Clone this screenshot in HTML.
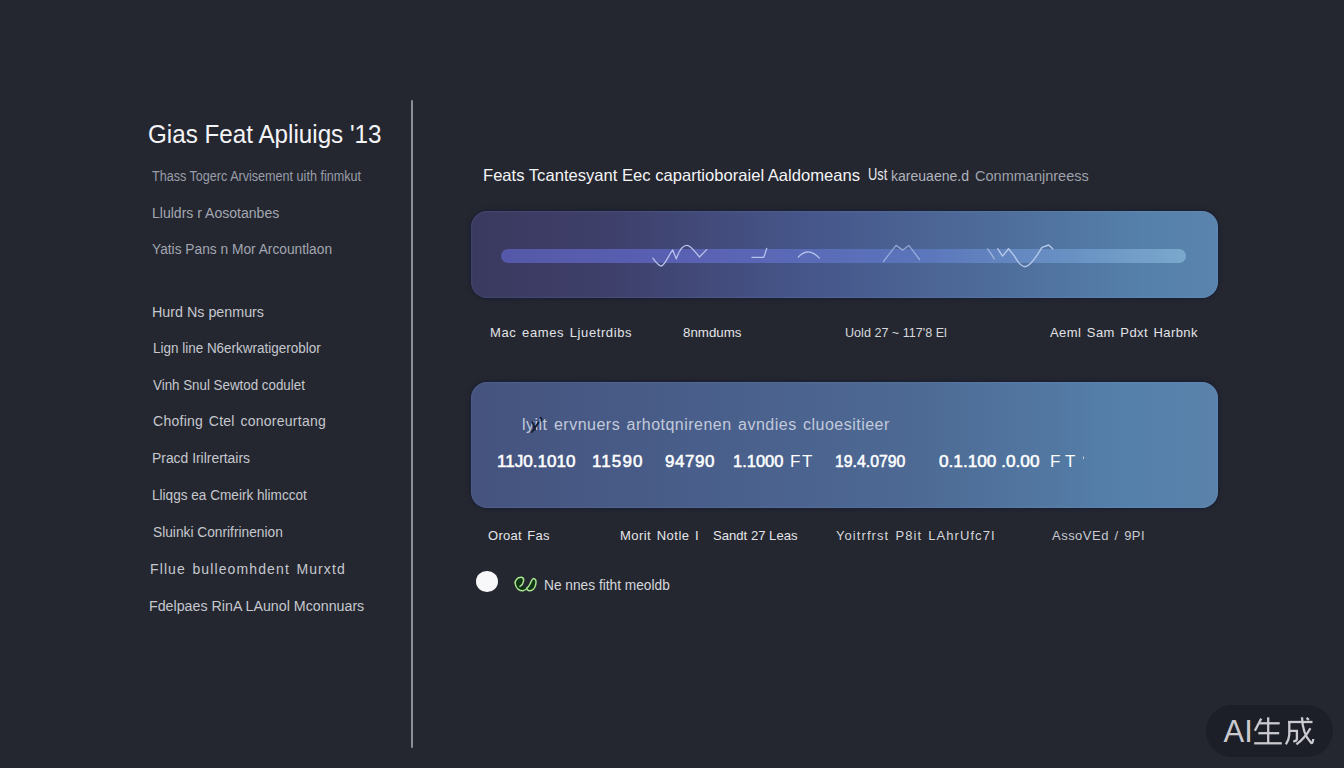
<!DOCTYPE html>
<html><head><meta charset="utf-8">
<style>
html,body{margin:0;padding:0;}
body{width:1344px;height:768px;overflow:hidden;background:#242730;position:relative;font-family:"Liberation Sans",sans-serif;}
.t{position:absolute;white-space:nowrap;line-height:1;transform-origin:0 0;}
.vline{position:absolute;left:411px;top:100px;width:2px;height:648px;background:#8a8e99;border-radius:1px;}
.card1{position:absolute;left:471px;top:211px;width:747px;height:87px;border-radius:16px;
 background:linear-gradient(90deg,#3a395f 0%,#3e3f6a 18%,#46568a 45%,#4e6c9a 70%,#5580aa 90%,#5a84ad 100%);
 box-shadow:0 0 0 1.5px rgba(28,33,55,0.75),0 0 4px 1px rgba(25,28,40,0.5),inset 0 0 2px 0.5px rgba(200,210,235,0.12);}
.bar1{position:absolute;left:501px;top:249px;width:685px;height:14px;border-radius:7px;
 background:linear-gradient(90deg,#5558a8 0%,#5a62b4 30%,#5a74ba 60%,#6a94c4 85%,#7aa8cc 100%);}
.card2{position:absolute;left:471px;top:382px;width:747px;height:126px;border-radius:16px;
 background:linear-gradient(90deg,#45537e 0%,#495e8a 30%,#4d6a94 60%,#5580aa 88%,#5a82ab 100%);
 box-shadow:0 0 0 1.5px rgba(28,33,55,0.75),0 0 4px 1px rgba(25,28,40,0.5),inset 0 0 2px 0.5px rgba(200,210,235,0.12);}
.ov{position:absolute;left:0;top:0;}
.dot{position:absolute;left:476px;top:570.5px;width:22px;height:21.5px;border-radius:50%;background:#f8f8fa;}
.badge{position:absolute;left:1206px;top:705px;width:127px;height:52px;border-radius:26px;background:#1d1f28;}
</style></head><body>
<div class="vline"></div>
<div class="card1"></div>
<div class="bar1"></div>
<div class="card2"></div>
<svg class="ov" width="1344" height="768" viewBox="0 0 1344 768">
<g fill="none" stroke="#b8c3ec" stroke-width="1.3" stroke-linecap="round" stroke-linejoin="round">
<path d="M652.8 258.2 C656 262 659 266.3 661.4 266 C664.5 265.5 668.5 255.5 672.7 249.9 L676.3 258.8 C679 251 682 245.3 687 245.4 C691 245.5 695 252 699.5 257 L706.7 249.6"/>
<path d="M752 257.4 L763.8 257.4 L766.8 248.4"/>
<path d="M798.3 257.1 Q808 246 819.4 258.1"/>
</g>
<g fill="none" stroke="#a8bde6" stroke-width="1.3" stroke-linecap="round" stroke-linejoin="round" opacity="0.75">
<path d="M883.4 261.5 L896.1 245.4 L902.8 250.1 L908.8 245.4 L919.6 259.5"/>
</g>
<g fill="none" stroke="#b4c8ea" stroke-width="1.4" stroke-linecap="round" stroke-linejoin="round">
<path d="M987.7 248.8 L994.4 258.8" opacity="0.7"/>
<path d="M997.8 248.8 L1002.5 256.1 L1008.5 248.8 L1014.5 256.1 Q1020 266.5 1025.2 266.8 Q1031 266 1042 247.4 L1048.7 245 L1052.7 248.8"/>
</g>
</svg>
<div class="dot"></div>
<svg class="ov" width="1344" height="768" viewBox="0 0 1344 768">
<g fill="#0f3514" stroke="#a8e48e" stroke-width="1.5" stroke-linecap="round">
<path d="M520 586.4 C524 584 525 578 521.5 577.3 C517 577 514.5 581 515.3 584 C516 589 520 591 523 590.8 C526 590 528.5 587 530 584 C531.5 581 532 578.4 533.5 578.4 C536 578.5 536.5 582 535.7 584.5 C535 588 532.5 590.8 529.9 590.8 C527.5 590.8 526.5 589 527 587.5"/>
</g>
</svg>
<div class="badge"></div>
<svg class="ov" width="1344" height="768" viewBox="0 0 1344 768" style="z-index:2">
<g fill="none" stroke="#161c32" stroke-width="1.9" stroke-linecap="round">
<path d="M532.5 422 L535 429.5 M538.5 422.5 L532 432 M540.5 417.8 Q542.2 418.6 541.4 420.8"/>
</g>
<path d="M1083.5 456.5 L1083.5 459" stroke="#dde3ee" stroke-width="1" opacity="0.8"/>
</svg>
<div id="title" class="t" style="left:148.03px;top:121.84px;font-size:25px;color:#f4f4f6;font-weight:400;letter-spacing:0.000px;word-spacing:0.000px;transform:scaleX(0.9689)">Gias Feat Apliuigs '13</div>
<div id="m1" class="t" style="left:152.00px;top:169.15px;font-size:14px;color:#9a9da8;font-weight:400;letter-spacing:0.000px;word-spacing:0.000px;transform:scaleX(0.8992)">Thass Togerc Arvisement uith finmkut</div>
<div id="m2" class="t" style="left:152.00px;top:206.15px;font-size:14px;color:#a3a6b0;font-weight:400;letter-spacing:0.000px;word-spacing:0.000px;transform:scaleX(1.0029)">Lluldrs r Aosotanbes</div>
<div id="m3" class="t" style="left:152.00px;top:242.15px;font-size:14px;color:#a3a6b0;font-weight:400;letter-spacing:0.000px;word-spacing:0.000px;transform:scaleX(0.9816)">Yatis Pans n Mor Arcountlaon</div>
<div id="m4" class="t" style="left:151.98px;top:305.15px;font-size:14px;color:#c6c8ce;font-weight:400;letter-spacing:0.000px;word-spacing:0.000px;transform:scaleX(1.0211)">Hurd Ns penmurs</div>
<div id="m5" class="t" style="left:153.04px;top:341.15px;font-size:14px;color:#c6c8ce;font-weight:400;letter-spacing:0.000px;word-spacing:0.000px;transform:scaleX(0.9617)">Lign line N6erkwratigeroblor</div>
<div id="m6" class="t" style="left:153.00px;top:378.15px;font-size:14px;color:#c6c8ce;font-weight:400;letter-spacing:0.000px;word-spacing:0.000px;transform:scaleX(0.9535)">Vinh Snul Sewtod codulet</div>
<div id="m7" class="t" style="left:153.00px;top:414.15px;font-size:14px;color:#c6c8ce;font-weight:400;letter-spacing:0.265px;word-spacing:1.500px;transform:scaleX(1.0000)">Chofing Ctel conoreurtang</div>
<div id="m8" class="t" style="left:152.01px;top:451.15px;font-size:14px;color:#c6c8ce;font-weight:400;letter-spacing:0.000px;word-spacing:0.000px;transform:scaleX(0.9919)">Pracd Irilrertairs</div>
<div id="m9" class="t" style="left:152.03px;top:488.15px;font-size:14px;color:#c6c8ce;font-weight:400;letter-spacing:0.000px;word-spacing:0.000px;transform:scaleX(0.9710)">Lliqgs ea Cmeirk hlimccot</div>
<div id="m10" class="t" style="left:153.00px;top:525.15px;font-size:14px;color:#c6c8ce;font-weight:400;letter-spacing:0.000px;word-spacing:0.000px;transform:scaleX(0.9810)">Sluinki Conrifrinenion</div>
<div id="m11" class="t" style="left:150.00px;top:562.15px;font-size:14px;color:#c6c8ce;font-weight:400;letter-spacing:1.117px;word-spacing:1.500px;transform:scaleX(1.0000)">Fllue bulleomhdent Murxtd</div>
<div id="m12" class="t" style="left:148.98px;top:599.15px;font-size:14px;color:#c6c8ce;font-weight:400;letter-spacing:0.000px;word-spacing:0.000px;transform:scaleX(1.0168)">Fdelpaes RinA LAunol Mconnuars</div>
<div id="h1" class="t" style="left:482.99px;top:167.03px;font-size:16.5px;color:#f4f4f6;font-weight:400;letter-spacing:0.000px;word-spacing:0.000px;transform:scaleX(1.0059)">Feats Tcantesyant Eec capartioboraiel Aaldomeans</div>
<div id="h1b" class="t" style="left:867.69px;top:167.46px;font-size:16px;color:#e6e7eb;font-weight:400;letter-spacing:0.000px;word-spacing:0.000px;transform:scaleX(0.8066)">Ust</div>
<div id="h2" class="t" style="left:891.00px;top:168.73px;font-size:14.5px;color:#b0b3bd;font-weight:400;letter-spacing:0.000px;word-spacing:0.000px;transform:scaleX(0.9683)">kareuaene.d</div>
<div id="h3" class="t" style="left:974.50px;top:168.73px;font-size:14.5px;color:#9ea1ab;font-weight:400;letter-spacing:0.000px;word-spacing:0.000px;transform:scaleX(1.0011)">Conmmanjnreess</div>
<div id="l1" class="t" style="left:490.00px;top:326.00px;font-size:13px;color:#e2e3e7;font-weight:400;letter-spacing:0.596px;word-spacing:1.500px;transform:scaleX(1.0000)">Mac eames Ljuetrdibs</div>
<div id="l2" class="t" style="left:683.00px;top:326.00px;font-size:13px;color:#e2e3e7;font-weight:400;letter-spacing:0.000px;word-spacing:0.000px;transform:scaleX(1.0247)">8nmdums</div>
<div id="l3" class="t" style="left:845.03px;top:326.00px;font-size:13px;color:#d6d8dc;font-weight:400;letter-spacing:0.000px;word-spacing:0.000px;transform:scaleX(0.9680)">Uold 27 ~ 117'8 El</div>
<div id="l4" class="t" style="left:1050.00px;top:326.00px;font-size:13px;color:#e2e3e7;font-weight:400;letter-spacing:0.416px;word-spacing:1.500px;transform:scaleX(1.0000)">Aeml Sam Pdxt Harbnk</div>
<div id="c2t" class="t" style="left:522.00px;top:417.46px;font-size:16px;color:#c2cadb;font-weight:400;letter-spacing:0.487px;word-spacing:1.500px;transform:scaleX(1.0000)">lyilt ervnuers arhotqnirenen avndies cluoesitieer</div>
<div id="n1" class="t" style="left:497.00px;top:452.61px;font-size:17px;color:#ffffff;font-weight:400;letter-spacing:0.000px;word-spacing:0.000px;transform:scaleX(1.0041);-webkit-text-stroke:0.55px #ffffff">11J0.1010</div>
<div id="n2" class="t" style="left:592.00px;top:452.61px;font-size:17px;color:#ffffff;font-weight:400;letter-spacing:1.111px;word-spacing:0.000px;transform:scaleX(1.0000);-webkit-text-stroke:0.55px #ffffff">11590</div>
<div id="n3" class="t" style="left:665.00px;top:452.61px;font-size:17px;color:#ffffff;font-weight:400;letter-spacing:0.545px;word-spacing:0.000px;transform:scaleX(1.0000);-webkit-text-stroke:0.55px #ffffff">94790</div>
<div id="n4" class="t" style="left:733.03px;top:452.61px;font-size:17px;color:#ffffff;font-weight:400;letter-spacing:0.000px;word-spacing:0.000px;transform:scaleX(0.9695);-webkit-text-stroke:0.55px #ffffff">1.1000</div>
<div id="n4b" class="t" style="left:790.00px;top:452.61px;font-size:17px;color:#ffffff;font-weight:400;letter-spacing:1.616px;word-spacing:0.000px;transform:scaleX(1.0000)">FT</div>
<div id="n5" class="t" style="left:835.07px;top:452.61px;font-size:17px;color:#ffffff;font-weight:400;letter-spacing:0.000px;word-spacing:0.000px;transform:scaleX(0.9302);-webkit-text-stroke:0.55px #ffffff">19.4.0790</div>
<div id="n6" class="t" style="left:939.00px;top:452.61px;font-size:17px;color:#ffffff;font-weight:400;letter-spacing:0.000px;word-spacing:0.000px;transform:scaleX(1.0122);-webkit-text-stroke:0.55px #ffffff">0.1.100 .0.00</div>
<div id="n7" class="t" style="left:1050.00px;top:452.61px;font-size:17px;color:#ffffff;font-weight:400;letter-spacing:4.616px;word-spacing:0.000px;transform:scaleX(1.0000)">FT</div>
<div id="b1" class="t" style="left:488.00px;top:529.00px;font-size:13px;color:#e4e5e8;font-weight:400;letter-spacing:0.276px;word-spacing:1.500px;transform:scaleX(1.0000)">Oroat Fas</div>
<div id="b2" class="t" style="left:620.00px;top:529.00px;font-size:13px;color:#e4e5e8;font-weight:400;letter-spacing:0.462px;word-spacing:1.500px;transform:scaleX(1.0000)">Morit Notle I</div>
<div id="b3" class="t" style="left:713.00px;top:529.00px;font-size:13px;color:#e4e5e8;font-weight:400;letter-spacing:0.000px;word-spacing:0.000px;transform:scaleX(1.0078)">Sandt 27 Leas</div>
<div id="b4" class="t" style="left:836.00px;top:529.00px;font-size:13px;color:#d4d6da;font-weight:400;letter-spacing:1.069px;word-spacing:1.500px;transform:scaleX(1.0000)">Yoitrfrst P8it LAhrUfc7I</div>
<div id="b5" class="t" style="left:1052.00px;top:529.00px;font-size:13px;color:#c8cad0;font-weight:400;letter-spacing:0.483px;word-spacing:1.500px;transform:scaleX(1.0000)">AssoVEd / 9PI</div>
<div id="ft" class="t" style="left:544.02px;top:578.15px;font-size:14px;color:#d6d8dc;font-weight:400;letter-spacing:0.000px;word-spacing:0.000px;transform:scaleX(0.9795)">Ne nnes fitht meoldb</div>
<div class="t" id="ai" style="left:1223.5px;top:715.5px;font-size:31px;color:#c9c9ce;">AI</div>
<svg class="ov" width="1344" height="768" viewBox="0 0 1344 768">
<g fill="none" stroke="#c9c9ce" stroke-width="2.3" stroke-linecap="butt" stroke-linejoin="miter">
<path d="M1261.2 718.6 L1254.9 730.8"/>
<path d="M1259.5 723.3 L1279.7 723.3"/>
<path d="M1258.3 733.2 L1279.2 733.2"/>
<path d="M1268.2 717.3 L1268.2 743.3"/>
<path d="M1254.2 743.3 L1281.8 743.3"/>
<path d="M1288 722 L1312.5 722"/>
<path d="M1289.3 722 L1289.3 734.5 Q1289 740 1285.9 744.4"/>
<path d="M1289.6 730.8 L1296.9 730.8 L1296.9 739.2 Q1296.5 741.3 1293.2 741.3"/>
<path d="M1302 717.3 Q1302.5 734 1311 742.8 Q1312.8 744 1313.2 739"/>
<path d="M1310.4 728.2 Q1305 738 1296.4 744.4"/>
<path d="M1306.5 717.8 L1308.9 719.9"/>
</g>
</svg>
</body></html>
